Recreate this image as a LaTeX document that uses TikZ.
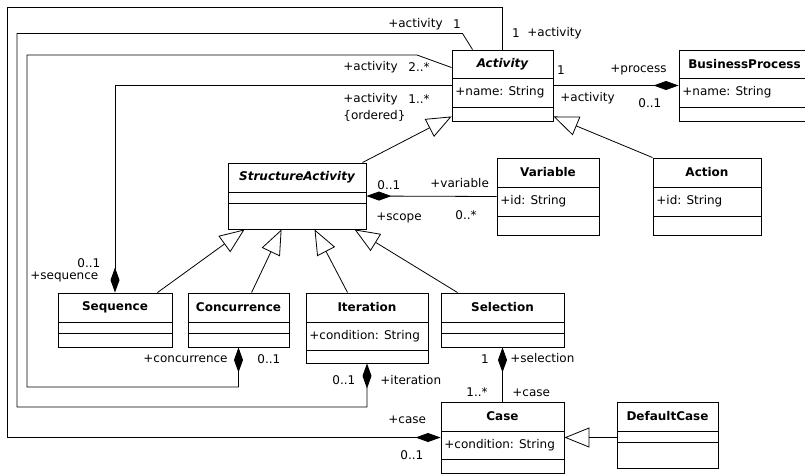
\documentclass[tikz,border=0pt]{standalone}
\usepackage{fontspec}
\usepackage{tikz}
\usetikzlibrary{arrows.meta,fit}
\newfontfamily\umlfont{DejaVu Sans}

\tikzset{
  clsbox/.style={draw, inner sep=0pt, line width=0.9pt},
  clsname/.style={font=\umlfont\fontsize{12}{14}\selectfont\bfseries, inner sep=0pt},
  attr/.style={font=\umlfont\fontsize{12}{14}\selectfont, anchor=west, inner sep=3pt},
  lbl/.style={font=\umlfont\fontsize{12}{14}\selectfont, inner sep=0pt},
  comp/.style={-{Diamond[length=25pt,width=9pt]}},
  gen/.style={-{Triangle[open,length=25pt,width=20pt]}},
}

% class box: name, x1, y1, x2, y2, first rule, second rule, title, attribute
\newcommand{\umlclass}[9]{%
  \node[clsbox, fit={(#2,#3) (#4,#5)}] (#1) {};
  \draw[line width=0.9pt] (#2,#6) -- (#4,#6);
  \draw[line width=0.9pt] (#2,#7) -- (#4,#7);
  \node[clsname] (#1-name) at ({(#2+#4)/2},{(#3+#6)/2}) {#8};
  \node[attr] (#1-attr) at (#2,{(#6+#7)/2}) {#9};
}

\begin{document}
\begin{tikzpicture}[x=1pt, y=-1pt, line width=0.8pt]
\clip (0,0) rectangle (805,475);
\fill[white] (0,0) rectangle (805,475);

% classes
\umlclass{act}{452}{50}{553}{121}{78}{107}{\itshape Activity}{+name: String}
\umlclass{bp}{679}{50}{810}{121}{78}{107}{BusinessProcess}{+name: String}
\umlclass{sa}{228}{163}{366}{229}{192}{203}{\itshape StructureActivity}{}
\umlclass{var}{497}{158}{599}{235}{187}{216}{Variable}{+id: String}
\umlclass{action}{653}{158}{761}{235}{187}{216}{Action}{+id: String}
\umlclass{seq}{58}{293}{172}{347}{322}{333}{Sequence}{}
\umlclass{conc}{188}{293}{289}{347}{322}{333}{Concurrence}{}
\umlclass{iter}{306}{293}{428}{363}{322}{350}{Iteration}{+condition: String}
\umlclass{sel}{441}{293}{564}{347}{322}{333}{Selection}{}
\umlclass{case}{441}{402}{564}{473}{431}{459}{Case}{+condition: String}
\umlclass{dcase}{617}{402}{718}{468}{431}{442}{DefaultCase}{}

% compositions
\draw[comp] (act.north) -- ++(0,-42) -| (7,437.5) -- (case.west);
\draw[comp] ([xshift=21pt]act.north west) -- ++(-10,-16) -| (17,407) -| (iter.south);
\draw[comp] ([yshift=-18pt]act.north west) -- (417,55) -| (27,387) -| (conc.south);
\draw[comp] ([yshift=-36pt]act.north west) -| (seq.north);
\draw[comp] (act.east) -- (bp.west);
\draw[comp] (var.west) -- (sa.east);
\draw[comp] (case.north) -- (sel.south);

% generalizations
\draw[gen] ([xshift=-4pt]sa.north east) -- ([yshift=5pt]act.south west);
\draw[gen] (action.north west) -- ([yshift=5pt]act.south east);
\draw[gen] ([xshift=-15pt]seq.north east) -- ([xshift=17pt]sa.south west);
\draw[gen] ([xshift=64pt]conc.north west) -- ([xshift=54pt]sa.south west);
\draw[gen] ([xshift=42pt]iter.north west) -- ([xshift=87pt]sa.south west);
\draw[gen] ([xshift=17pt]sel.north west) -- ([xshift=127pt]sa.south west);
\draw[gen] (dcase.west |- case.east) -- (case.east);

% role names and multiplicities
\node[lbl, anchor=east] (iterRole) at (443,24) {+activity};
\node[lbl] (iterMult) at (457,24) {1};
\node[lbl] (caseMult) at (516,33) {1};
\node[lbl, anchor=west] (caseRole) at (527,33) {+activity};
\node[lbl, anchor=west] (concRole) at (343,67) {+activity};
\node[lbl, anchor=west] (concMult) at (408,67) {2..*};
\node[lbl, anchor=west] (seqRole) at (343,99) {+activity};
\node[lbl, anchor=west] (seqMult) at (408,99) {1..*};
\node[lbl, anchor=west] (seqOrd) at (343,116) {\{ordered\}};
\node[lbl] (bpMult) at (561,70) {1};
\node[lbl, anchor=west] (bpRole) at (610,70) {+process};
\node[lbl, anchor=west] (actRole) at (560,98) {+activity};
\node[lbl, anchor=west] (actMult) at (638,103) {0..1};
\node[lbl, anchor=west] (scopeMult) at (377,185) {0..1};
\node[lbl, anchor=west] (varRole) at (430,183) {+variable};
\node[lbl, anchor=west] (scopeRole) at (376,218) {+scope};
\node[lbl, anchor=west] (varMult) at (455,215) {0..*};
\node[lbl, anchor=west] (seqOwnMult) at (77,263) {0..1};
\node[lbl, anchor=west] (seqOwnRole) at (30,277) {+sequence};
\node[lbl, anchor=east] (concOwnRole) at (228,359) {+concurrence};
\node[lbl, anchor=west] (concOwnMult) at (257,359) {0..1};
\node[lbl, anchor=west] (iterOwnMult) at (332,380) {0..1};
\node[lbl, anchor=west] (iterOwnRole) at (380,380) {+iteration};
\node[lbl, anchor=west] (caseOwnRole) at (388,420) {+case};
\node[lbl, anchor=west] (caseOwnMult) at (400,455) {0..1};
\node[lbl] (selMult) at (485,359) {1};
\node[lbl, anchor=west] (selRole) at (510,358) {+selection};
\node[lbl, anchor=west] (selCaseMult) at (466,392) {1..*};
\node[lbl, anchor=west] (selCaseRole) at (512,393) {+case};
\end{tikzpicture}
\end{document}
